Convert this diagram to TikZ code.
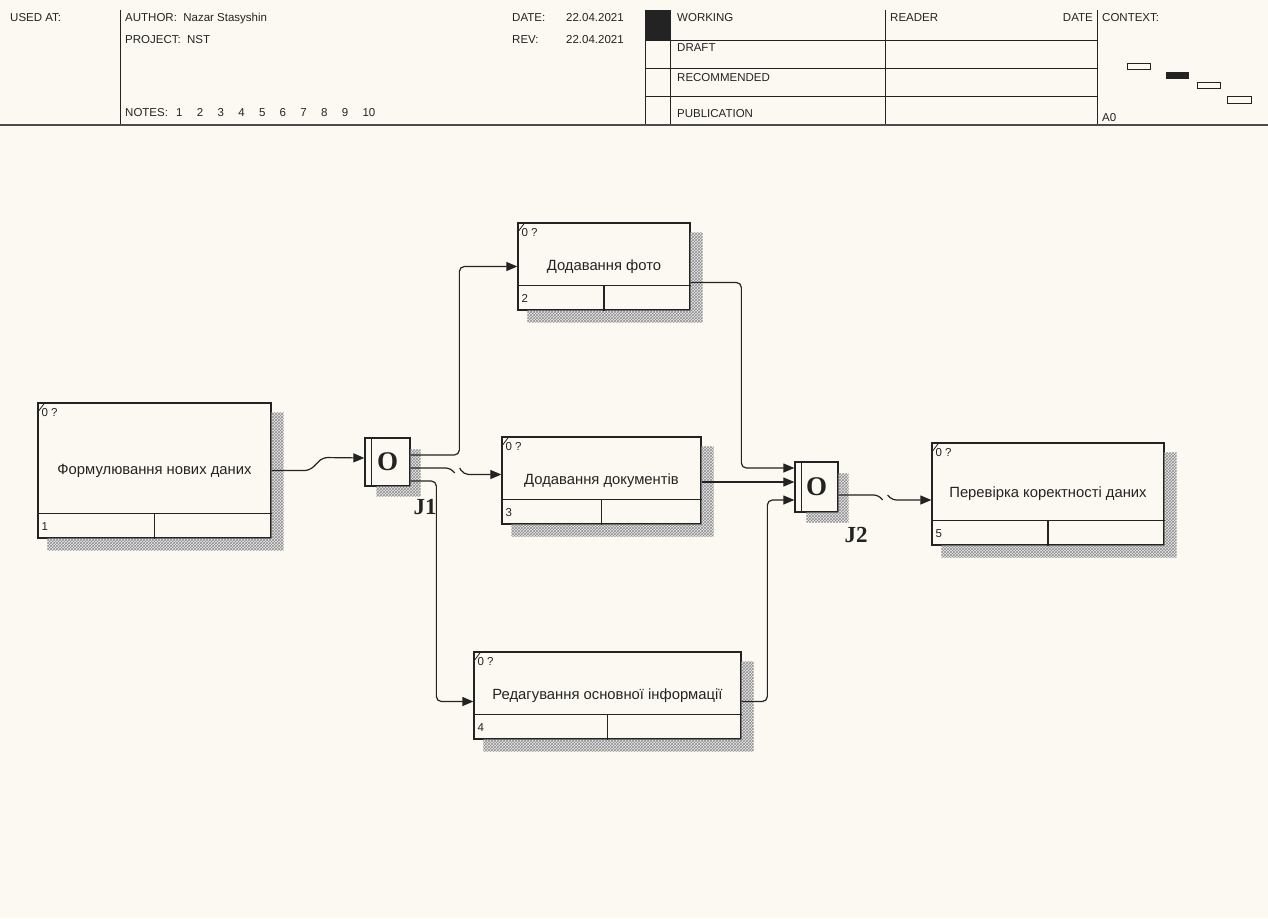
\documentclass[tikz,border=0pt]{standalone}
\usepackage{fontspec}
\setmainfont{Liberation Sans}
\newfontfamily\serifbold{Liberation Serif}
\usetikzlibrary{calc,patterns,arrows.meta}
\definecolor{paper}{RGB}{251,249,241}
\definecolor{ink}{RGB}{35,35,35}
\tikzset{
  hdr/.style={font=\fontsize{11.5}{12}\selectfont, text=ink, anchor=base west, inner sep=0pt},
  hline/.style={draw=ink, line width=1pt},
  actbox/.style={draw=ink, line width=1.3pt, inner sep=0pt, text=ink, font=\fontsize{14.8}{16}\selectfont},
  jbox/.style={draw=ink, line width=1.3pt, inner sep=0pt, text=ink, font=\serifbold\bfseries\fontsize{27}{28}\selectfont},
  jlabel/.style={text=ink, inner sep=0pt, font=\serifbold\bfseries\fontsize{23}{24}\selectfont},
  small/.style={font=\fontsize{11.5}{12}\selectfont, text=ink, anchor=west, inner sep=0pt},
  shadowbase/.style={fill=gray!15},
  shadowfill/.style={pattern=crosshatch, pattern color=black!45},
  conn/.style={draw=ink, line width=1.2pt, rounded corners=5pt},
  arr/.style={conn, -{Triangle[length=11pt,width=9pt]}},
}
\newcommand\idefshadow[3]{%
  \path[shadowbase, postaction={shadowfill}] ($(#1.north east)+(0,#3)$) -- ($(#1.north east)+(#2,#3)$)
    -- ($(#1.south east)+(#2,#2)$) -- ($(#1.south west)+(#3,#2)$)
    -- ($(#1.south west)+(#3,0)$) -- (#1.south east) -- cycle;}
\newcommand\idefinner[2]{%
  \draw[ink, line width=1.2pt] ($(#1.south west)+(0,-25)$) -- ($(#1.south east)+(0,-25)$);
  \draw[ink, line width=1.2pt] ($(#1.south)+(0,-25)$) -- (#1.south);
  \node[small] (#1num) at ($(#1.south west)+(4,-12)$) {#2};
  \node[small] (#1ref) at ($(#1.north west)+(4,10)$) {0 ?};
  \draw[ink, line width=0.8pt] ($(#1.north west)+(1,9)$) -- ($(#1.north west)+(7,1)$);}
\begin{document}
\begin{tikzpicture}[x=1pt,y=-1pt]
\fill[paper] (0,0) rectangle (1268,918);
\useasboundingbox (0,0) rectangle (1268,918);

% ---------- header ----------
\draw[hline] (120,10) -- (120,125);
\draw[hline] (645,10) -- (645,125);
\draw[hline] (670,10) -- (670,125);
\draw[hline] (885,10) -- (885,125);
\draw[hline] (1097,10) -- (1097,125);
\draw[hline] (645,40) -- (1097,40);
\draw[hline] (645,68) -- (1097,68);
\draw[hline] (645,96) -- (1097,96);
\fill[ink] (646,10) rectangle (670,40);
\draw[draw=gray!60!black, line width=2pt] (0,125) -- (1268,125);

\node[hdr] (usedat) at (10,21) {USED AT:};
\node[hdr] (author) at (125,21) {AUTHOR:\ \ Nazar Stasyshin};
\node[hdr] (project) at (125,43) {PROJECT:\ \ NST};
\node[hdr] (notes) at (125,116) {NOTES:};
\foreach \n [count=\i] in {1,...,10}{
  \node[hdr] (note\i) at ({176+20.7*(\i-1)},116) {\n};
}
\node[hdr] (datek) at (512,21) {DATE:};
\node[hdr] (datev) at (566,21) {22.04.2021};
\node[hdr] (revk) at (512,43) {REV:};
\node[hdr] (revv) at (566,43) {22.04.2021};
\node[hdr] (working) at (677,21) {WORKING};
\node[hdr] (draft) at (677,51) {DRAFT};
\node[hdr] (recom) at (677,81) {RECOMMENDED};
\node[hdr] (publ) at (677,117) {PUBLICATION};
\node[hdr] (reader) at (890,21) {READER};
\node[hdr, anchor=base east] (rdate) at (1093,21) {DATE};
\node[hdr] (context) at (1102,21) {CONTEXT:};
\node[hdr] (a0) at (1102,121) {A0};
\draw[ink, line width=1pt, fill=paper] (1127,63) rectangle (1150,69);
\fill[ink] (1166,72) rectangle (1189,79);
\draw[ink, line width=1pt, fill=paper] (1197,82) rectangle (1220,88);
\draw[ink, line width=1pt, fill=paper] (1227,96) rectangle (1251,103);

% ---------- activity boxes ----------
\node[actbox, minimum width=233, minimum height=135] (b1) at (154.5,470.5) {Формулювання нових даних};
\node[actbox, minimum width=172, minimum height=87] (b2) at (604,266.5) {Додавання фото};
\node[actbox, minimum width=199, minimum height=87] (b3) at (601.5,480.5) {Додавання документів};
\node[actbox, minimum width=267, minimum height=87] (b4) at (607.5,695.5) {Редагування основної інформації};
\node[actbox, minimum width=232, minimum height=102] (b5) at (1048,494) {Перевірка коректності даних};
\foreach \b in {b1,b2,b3,b4,b5}{ \idefshadow{\b}{12}{10} }
\idefinner{b1}{1}
\idefinner{b2}{2}
\idefinner{b3}{3}
\idefinner{b4}{4}
\idefinner{b5}{5}

% ---------- junctions ----------
\node[jbox, minimum width=45, minimum height=48] (j1) at (387.5,462) {O};
\node[jbox, minimum width=43, minimum height=50] (j2) at (816.5,487) {O};
\idefshadow{j1}{10}{12}
\idefshadow{j2}{10}{12}
\draw[ink, line width=1.2pt] ($(j1.north west)+(7,0)$) -- ($(j1.south west)+(7,0)$);
\draw[ink, line width=1.2pt] ($(j2.north west)+(7,0)$) -- ($(j2.south west)+(7,0)$);
\node[jlabel] (j1lab) at (425,507) {J1};
\node[jlabel] (j2lab) at (856,535) {J2};

% ---------- connectors ----------
\draw[arr] (b1.east) -- ++(38,0) -- ++(13,-13) -- ($(j1.west)+(0,-4)$);
\draw[arr] ($(j1.east)+(0,-7)$) -| ($(b2.west)+(-58,0)$) -- (b2.west);
\draw[conn] ($(j1.east)+(0,6)$) -- ++(40,0) -- ++(4,5);
\draw[arr] ($(j1.east)+(0,6)$) ++(49,0) -- ++(4,6.5) -- ($(b3.west)+(0,-6)$);
\draw[arr] ($(j1.east)+(0,19)$) -| ($(b4.west)+(-37,6)$) -- ($(b4.west)+(0,6)$);
\draw[arr] ($(b2.east)+(0,16)$) -| ($(j2.west)+(-53,-19)$) -- ($(j2.west)+(0,-19)$);
\draw[arr] ($(b3.east)+(0,1.5)$) -- ($(j2.west)+(0,-5)$);
\draw[arr] ($(b4.east)+(0,6)$) -| ($(j2.west)+(-27,13)$) -- ($(j2.west)+(0,13)$);
\draw[conn] ($(j2.east)+(0,8)$) -- ++(40,0) -- ++(4,5);
\draw[arr] ($(j2.east)+(0,8)$) ++(49,0) -- ++(4,5) -- ($(b5.west)+(0,6)$);
\end{tikzpicture}
\end{document}
